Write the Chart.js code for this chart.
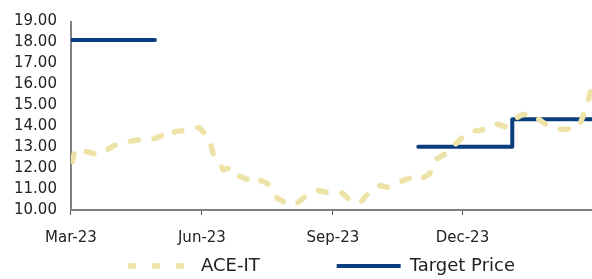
<!DOCTYPE html>
<html>
<head>
<meta charset="utf-8">
<script src="https://cdn.jsdelivr.net/npm/chart.js@4.4.1/dist/chart.umd.min.js"></script>
<style>
  html, body { margin: 0; padding: 0; background: #fff; }
  #wrap { width: 592px; height: 279px; position: relative; }
</style>
</head>
<body>
<div id="wrap"><canvas id="priceChart"></canvas></div>
<script>
// days counted from 1 Mar 2023
const tickDays = [0, 92, 184, 275];
const tickLabels = ['Mar-23', 'Jun-23', 'Sep-23', 'Dec-23'];

const priceDays = [1, 3, 12, 19, 32, 41, 51, 55, 59, 66, 71, 73, 82, 90, 97, 100, 107, 113, 115, 122, 127, 129,
  138, 141, 145, 154, 159, 164, 173, 180, 190, 196, 203, 211, 217, 223, 230, 239, 244, 252, 257, 266, 270,
  277, 280, 287, 292, 298, 305, 308, 317, 324, 329, 336, 345, 352, 357, 360, 362, 366];
const priceValues = [12.3, 12.9, 12.77, 12.63, 13.14, 13.28, 13.38, 13.33, 13.42, 13.61, 13.52, 13.75, 13.8, 13.94,
  13.42, 12.67, 11.92, 12.02, 11.73, 11.5, 11.41, 11.55, 11.27, 11.03, 10.56, 10.23, 10.33, 10.61, 10.94, 10.84,
  10.84, 10.47, 10.33, 10.98, 11.17, 11.08, 11.31, 11.55, 11.41, 11.73, 12.44, 12.81, 13.14, 13.61, 13.75, 13.8,
  13.89, 14.13, 13.98, 14.22, 14.55, 14.59, 14.31, 13.98, 13.84, 13.89, 13.98, 14.55, 14.85, 15.95];

const targetDays = [0, 59, 60, 244, 310, 310, 366];
const targetValues = [18.12, 18.12, null, 13.02, 13.02, 14.33, 14.33];

const toPoints = (xs, ys) => xs.map((x, i) => ({ x, y: ys[i] }));
const font = { family: 'DejaVu Sans', size: 15, lineHeight: 1 };

// legend padding is also the gap between items; keep the box short and draw the items
// relative to its top (negative = above the box, into the label band)
const legendBoxHeight = 17;
const legendItemTop = -5;
const legendTrim = {
  id: 'legendTrim',
  afterInit(chart) {
    const lg = chart.legend;
    const fit = lg.fit.bind(lg);
    lg.fit = function () { fit(); this.height = legendBoxHeight; };
    const draw = lg.draw.bind(lg);
    lg.draw = function () {
      const top = this.top;
      this.top = top + legendItemTop - this.options.labels.padding;
      draw();
      this.top = top;
    };
  }
};

new Chart(document.getElementById('priceChart'), {
  type: 'line',
  data: {
    datasets: [{
      label: 'ACE-IT',
      data: toPoints(priceDays, priceValues),
      borderColor: '#EDE3A8',
      borderWidth: 5.5,
      borderDash: [8, 16],
      borderCapStyle: 'round',
      borderJoinStyle: 'round',
      pointRadius: 0,
      tension: 0
    }, {
      label: 'Target Price',
      data: toPoints(targetDays, targetValues),
      borderColor: '#0B3E7C',
      borderWidth: 4,
      borderCapStyle: 'round',
      borderJoinStyle: 'round',
      pointRadius: 0,
      spanGaps: false,
      tension: 0
    }]
  },
  plugins: [legendTrim],
  options: {
    responsive: true,
    maintainAspectRatio: false,
    animation: false,
    layout: { padding: { top: -3, right: 0, bottom: 0, left: 0 } },
    plugins: {
      tooltip: { enabled: false },
      legend: {
        position: 'bottom',
        align: 'end',
        labels: {
          usePointStyle: true,
          pointStyle: 'line',
          pointStyleWidth: 64,
          color: '#222',
          font: { family: 'DejaVu Sans', size: 18, lineHeight: 1 },
          padding: 77,
          boxHeight: 15,
          // line legend items lose borderDash when point styles are used, so rebuild them
          generateLabels: chart => chart.data.datasets.map((ds, i) => ({
            text: ds.label,
            fillStyle: ds.borderColor,
            strokeStyle: ds.borderColor,
            lineWidth: ds.borderWidth,
            lineDash: ds.borderDash || [],
            lineCap: 'butt',
            pointStyle: 'line',
            fontColor: '#222',
            hidden: false,
            datasetIndex: i
          }))
        }
      }
    },
    scales: {
      x: {
        type: 'linear',
        min: 0,
        max: 366,
        afterBuildTicks: axis => { axis.ticks = tickDays.map(v => ({ value: v })); },
        ticks: {
          color: '#222',
          font,
          maxRotation: 0,
          autoSkip: false,
          padding: 16,
          callback: v => tickLabels[tickDays.indexOf(v)] || ''
        },
        grid: { display: true, drawOnChartArea: false, drawTicks: true, tickLength: 5, color: '#555', lineWidth: 1 },
        border: { display: true, color: '#808080', width: 2 }
      },
      y: {
        min: 10,
        max: 19,
        ticks: {
          stepSize: 1,
          autoSkip: false,
          color: '#222',
          font,
          padding: 14,
          callback: v => v.toFixed(2)
        },
        grid: { display: false, drawTicks: false },
        border: { display: true, color: '#808080', width: 2 }
      }
    }
  }
});
</script>
</body>
</html>
